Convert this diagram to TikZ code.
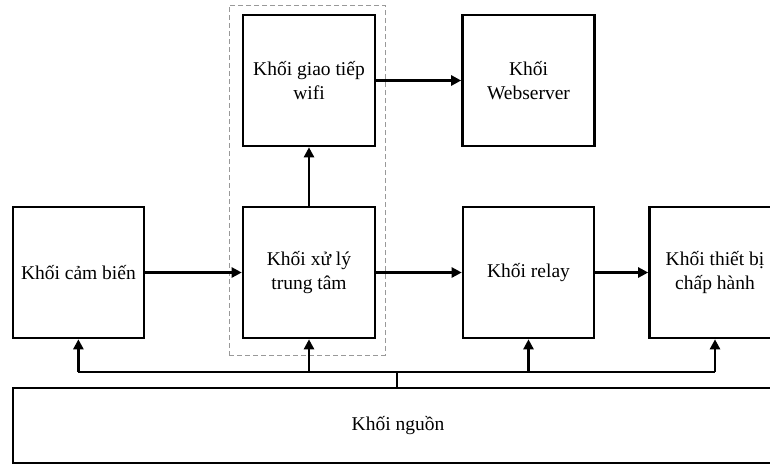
\documentclass[tikz,border=0pt]{standalone}
\usepackage{fontspec}
\setmainfont{Liberation Serif}
\usetikzlibrary{arrows.meta}
\begin{document}
\begin{tikzpicture}[x=1pt,y=-1pt,
  blk/.style={draw,line width=2.6pt,align=center,inner sep=0pt,
    font=\fontsize{19.5}{23.5}\selectfont},
  arr/.style={-{Triangle[length=10pt,width=10pt]},line width=2.4pt},
  ln/.style={line width=2.4pt},
  grp/.style={draw=gray!80,line width=1pt,dash pattern=on 5pt off 3pt}]
\useasboundingbox (0,0) rectangle (770,464);
\clip (0,0) rectangle (770,464);
\fill[white] (0,0) rectangle (770,464);
\node[grp,minimum width=156pt,minimum height=350pt] (grp) at (307,180) {};
\node[blk,minimum width=132pt,minimum height=131pt] (wifi) at (309,80.5) {Khối giao tiếp\\wifi};
\node[blk,minimum width=132pt,minimum height=131pt] (web) at (528.5,80.5) {Khối\\Webserver};
\node[blk,minimum width=131pt,minimum height=131pt] (camb) at (78.4,272.5) {Khối cảm biến};
\node[blk,minimum width=132pt,minimum height=131pt] (xuly) at (309,272.5) {Khối xử lý\\trung tâm};
\node[blk,minimum width=131pt,minimum height=131pt] (relay) at (528.5,272.5) {Khối relay};
\node[blk,minimum width=131pt,minimum height=131pt] (tb) at (715,272.5) {Khối thiết bị\\chấp hành};
\node[blk,minimum width=770pt,minimum height=75pt] (nguon) at (398,425.5) {Khối nguồn};
\coordinate (bus) at (397,372);
\draw[arr] (camb.east) -- (xuly.west);
\draw[arr] (xuly.east) -- (relay.west);
\draw[arr] (relay.east) -- (tb.west);
\draw[arr] (xuly.north) -- (wifi.south);
\draw[arr] (wifi.east) -- (web.west);
\draw[ln] (bus |- nguon.north) -- (bus);
\draw[ln] (camb.south |- bus) -- (tb.south |- bus);
\draw[arr] (camb.south |- bus) -- (camb.south);
\draw[arr] (xuly.south |- bus) -- (xuly.south);
\draw[arr] (relay.south |- bus) -- (relay.south);
\draw[arr] (tb.south |- bus) -- (tb.south);
\end{tikzpicture}
\end{document}
